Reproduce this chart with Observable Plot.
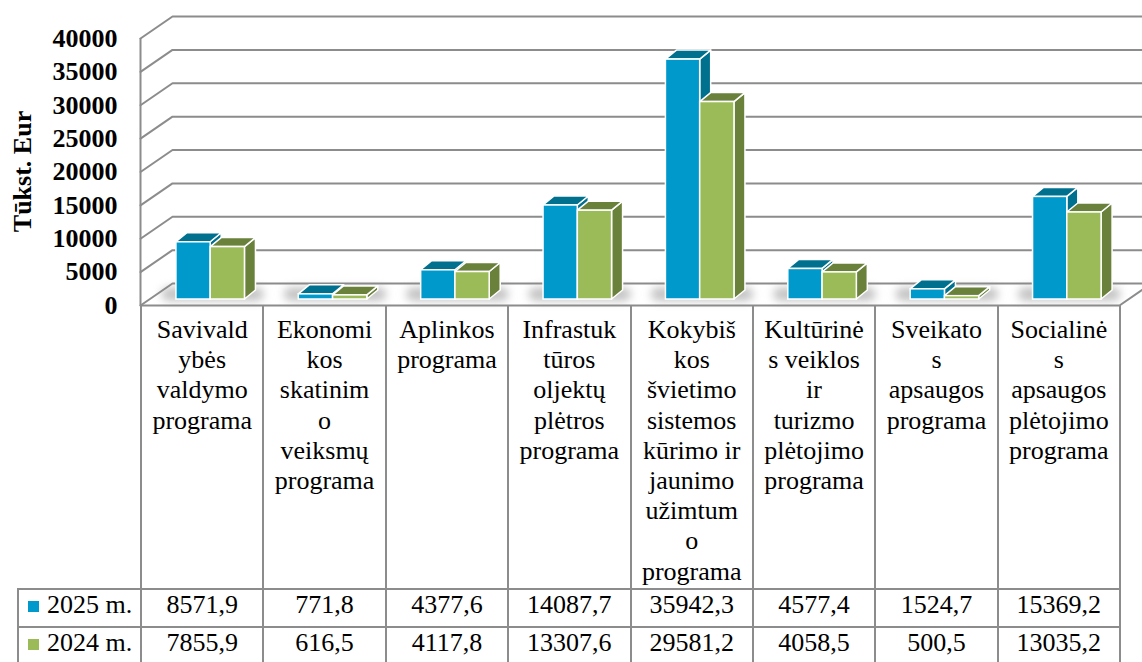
<!DOCTYPE html>
<html>
<head>
<meta charset="utf-8">
<script src="https://cdn.jsdelivr.net/npm/d3@7"></script>
<script src="https://cdn.jsdelivr.net/npm/@observablehq/plot@0.6"></script>
<style>
  html, body { margin: 0; padding: 0; background: #fff; overflow: hidden; }
  #wrap { position: relative; width: 1142px; height: 662px; }
  #chart svg { display: block; }
  table.dt { position: absolute; left: 17px; top: 305px; border-collapse: collapse; table-layout: fixed;
    font-family: "Liberation Serif", "Times New Roman", serif; font-size: 26px; line-height: 30.2px; color: #000; }
  table.dt td { padding: 0; text-align: center; border: 2px solid #8c8c8c; overflow: hidden; }
  table.dt tr.head td { border-top: none; vertical-align: top; height: 284px; white-space: pre; padding-top: 10px; box-sizing: border-box; }
  table.dt tr.head td.blank { border: none; border-right: 2px solid #8c8c8c; }
  table.dt tr.val td { height: 38px; vertical-align: top; box-sizing: border-box; }
  table.dt td.leg { text-align: left; padding-left: 9px; white-space: nowrap; }
  .sw { display: inline-block; width: 11px; height: 11px; margin-right: 8px; vertical-align: 1px; }
</style>
</head>
<body>
<div id="wrap">
  <div id="chart"></div>
</div>
<script>
// ---- data ----
const categories = [
  "Savivaldybės valdymo programa",
  "Ekonomikos skatinimo veiksmų programa",
  "Aplinkos programa",
  "Infrastuktūros oljektų plėtros programa",
  "Kokybiškos švietimo sistemos kūrimo ir jaunimo užimtumo programa",
  "Kultūrinės veiklos ir turizmo plėtojimo programa",
  "Sveikatos apsaugos programa",
  "Socialinės apsaugos plėtojimo programa"
];
const categoryLabels = [
  "Savivald\nybės\nvaldymo\nprograma",
  "Ekonomi\nkos\nskatinim\no\nveiksmų\nprograma",
  "Aplinkos\nprograma",
  "Infrastuk\ntūros\noljektų\nplėtros\nprograma",
  "Kokybiš\nkos\nšvietimo\nsistemos\nkūrimo ir\njaunimo\nužimtum\no\nprograma",
  "Kultūrinė\ns veiklos\nir\nturizmo\nplėtojimo\nprograma",
  "Sveikato\ns\napsaugos\nprograma",
  "Socialinė\ns\napsaugos\nplėtojimo\nprograma"
];
const seriesNames = ["2025 m.", "2024 m."];
const values2025 = [8571.9, 771.8, 4377.6, 14087.7, 35942.3, 4577.4, 1524.7, 15369.2];
const values2024 = [7855.9, 616.5, 4117.8, 13307.6, 29581.2, 4058.5, 500.5, 13035.2];
const yTicks = [0, 5000, 10000, 15000, 20000, 25000, 30000, 35000, 40000];
const yTitle = "Tūkst. Eur";

// ---- style ----
const frontColors = ["#0099cc", "#9bbb59"];
const darkColors = ["#00708f", "#69813a"];
const FONT = "Liberation Serif";

// ---- geometry helpers (scales) ----
const xDomain = [0, categories.length], xRange = [140, 1119];
const yDomain = [0, 40000], yRange = [305, 38];
const pxPerX = (xRange[1] - xRange[0]) / (xDomain[1] - xDomain[0]);
const pxPerY = (yRange[0] - yRange[1]) / (yDomain[1] - yDomain[0]);
const wallU = 32 / pxPerX, wallV = 22 / pxPerY;     // back wall depth
const barU = 11 / pxPerX, barV = 9 / pxPerY;        // bar depth
const barW = 0.28;                                  // bar width (category units)

const series = [values2025, values2024];
const bars = [];
categories.forEach((c, i) => {
  series.forEach((vals, s) => {
    const x1 = i + 0.5 - barW + barW * s;
    bars.push({id: i * 2 + s, cat: c, s, x1, x2: x1 + barW, v: vals[i]});
  });
});
const tops = bars.flatMap(b => [
  {id: b.id, s: b.s, y: b.v, x1: b.x1, x2: b.x2},
  {id: b.id, s: b.s, y: b.v + barV, x1: b.x1 + barU, x2: b.x2 + barU}
]);
const sides = bars.flatMap(b => [
  {id: b.id, s: b.s, x: b.x2, y1: 0, y2: b.v},
  {id: b.id, s: b.s, x: b.x2 + barU, y1: barV, y2: b.v + barV}
]);
const grid = yTicks.flatMap(t => [
  {t, x: 0, y: t},
  {t, x: wallU, y: t + wallV},
  {t, x: xDomain[1] + 0.6, y: t + wallV}
]);
const floorEdge = [
  {x: 0, y: 0}, {x: xDomain[1], y: 0}, {x: xDomain[1] + wallU, y: wallV}
];
const shadows = categories.map((c, i) => ({x1: i + 0.5 - barW - 0.12, x2: i + 0.5 + barW + 0.16}));

const barOff = {dx: 9, dy: -6};
const plot = Plot.plot({
  width: 1142, height: 322,
  marginLeft: 140, marginRight: 0, marginTop: 0, marginBottom: 16,
  x: {domain: xDomain, range: xRange, axis: null},
  y: {domain: yDomain, range: yRange, axis: null},
  style: {fontFamily: FONT, background: "white", overflow: "hidden"},
  marks: [
    Plot.line(grid, {x: "x", y: "y", z: "t", stroke: "#8c8c8c", strokeWidth: 2}),
    Plot.line(floorEdge, {x: "x", y: "y", stroke: "#8c8c8c", strokeWidth: 2}),
    Plot.ruleX([0], {y1: 0, y2: 40000, stroke: "#8c8c8c", strokeWidth: 2}),
    Plot.rect(shadows, {x1: "x1", x2: "x2", y1: -300, y2: barV * 1.3, fill: "#8a8a8a", fillOpacity: 0.5, rx: 8, imageFilter: "blur(4px)", ...barOff}),
    Plot.areaY(sides, {x: "x", y1: "y1", y2: "y2", z: "id", fill: d => darkColors[d.s], stroke: "white", strokeWidth: 1.5, ...barOff}),
    Plot.areaX(tops, {y: "y", x1: "x1", x2: "x2", z: "id", fill: d => darkColors[d.s], stroke: "white", strokeWidth: 1.5, ...barOff}),
    Plot.rect(bars, {x1: "x1", x2: "x2", y1: 0, y2: "v", fill: d => frontColors[d.s], stroke: "white", strokeWidth: 1.5, ...barOff}),
    Plot.axisY(yTicks, {tickSize: 0, tickPadding: 23, tickFormat: d => String(d), fontSize: 26, fontWeight: "bold", fontFamily: FONT, fill: "black"}),
    Plot.text([yTitle], {frameAnchor: "left", textAnchor: "middle", rotate: -90, dx: -118, dy: 18, fontSize: 26, fontWeight: "bold", fontFamily: FONT, fill: "black"})
  ]
});
document.getElementById("chart").appendChild(plot);

// ---- data table ----
const fmt = v => v.toFixed(1).replace(".", ",");
const table = document.createElement("table");
table.className = "dt";
const colg = document.createElement("colgroup");
[123, ...categories.map(() => pxPerX)].forEach(w => {
  const col = document.createElement("col"); col.style.width = w + "px"; colg.appendChild(col);
});
table.appendChild(colg);
const head = table.insertRow(); head.className = "head";
const blank = head.insertCell(); blank.className = "blank";
categoryLabels.forEach(l => { head.insertCell().textContent = l; });
series.forEach((vals, s) => {
  const tr = table.insertRow(); tr.className = "val";
  const lc = tr.insertCell(); lc.className = "leg";
  const sw = document.createElement("span"); sw.className = "sw"; sw.style.background = frontColors[s];
  lc.appendChild(sw); lc.appendChild(document.createTextNode(seriesNames[s]));
  vals.forEach(v => { tr.insertCell().textContent = fmt(v); });
});
document.getElementById("wrap").appendChild(table);
</script>
</body>
</html>
